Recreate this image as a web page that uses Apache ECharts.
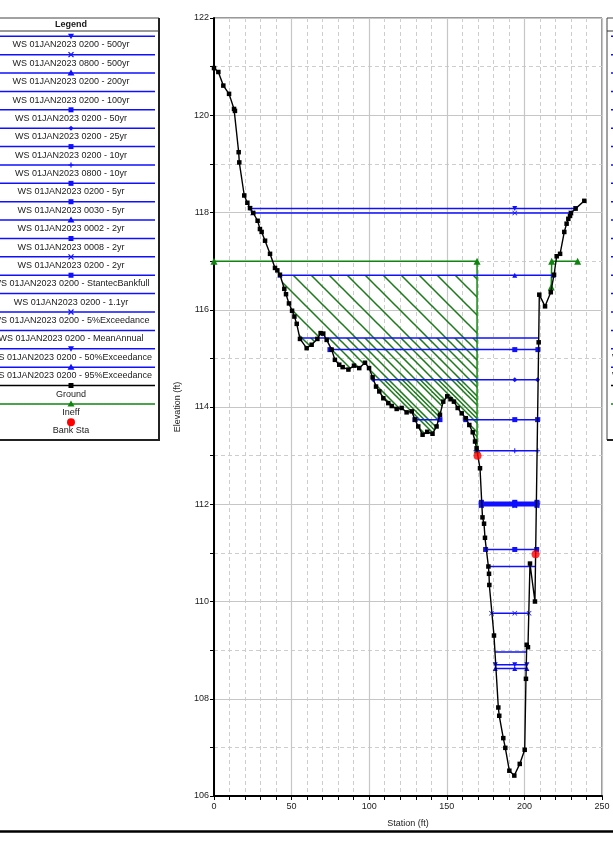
<!DOCTYPE html>
<html><head><meta charset="utf-8">
<script src="https://cdn.jsdelivr.net/npm/echarts/dist/echarts.min.js"></script>
<style>html,body{margin:0;padding:0;background:#fff;}#c{width:613px;height:845px;}</style>
</head><body><div id="c"></div>
<script>
// ---------------- DATA ----------------
const groundSta = [0,2.8,6.0,9.7,12.9,13.5,15.9,16.3,19.5,21.5,23.2,25.3,28.1,29.6,30.7,32.9,36.1,39.3,40.8,42.5,45.3,46.4,48.3,50.3,51.8,53.3,55.4,59.7,62.9,66.6,68.7,70.4,72.6,75.8,77.9,80.7,82.9,86.6,90.2,93.6,97.3,99.9,102.2,104.4,106.5,109.1,112.3,114.5,117.7,120.9,124.1,127.4,129.5,131.6,134.4,137.4,140.8,143.4,145.6,147.7,150.3,152.4,154.6,157.0,159.6,162.2,164.5,166.7,168.2,169.2,171.4,173.0,174.0,174.6,176.8,177.2,177.4,180.4,183.2,183.8,186.4,187.7,190.3,193.5,197.0,200.2,201.0,201.5,202.3,203.6,206.8,209.2,209.6,213.3,217.0,219.1,220.8,223.0,225.7,227.2,228.3,229.4,230.0,233.0,238.6];
const groundElev = [120.97,120.89,120.61,120.44,120.13,120.09,119.24,119.03,118.35,118.20,118.09,117.99,117.83,117.66,117.60,117.42,117.15,116.86,116.81,116.72,116.43,116.32,116.13,115.98,115.86,115.71,115.40,115.21,115.28,115.40,115.52,115.51,115.38,115.18,114.97,114.87,114.82,114.77,114.85,114.80,114.91,114.80,114.61,114.42,114.32,114.18,114.08,114.02,113.96,113.98,113.89,113.91,113.74,113.60,113.43,113.49,113.45,113.60,113.84,114.11,114.22,114.16,114.11,113.98,113.87,113.77,113.63,113.48,113.29,113.15,112.74,111.73,111.60,111.31,110.72,110.57,110.34,109.30,107.82,107.65,107.19,106.99,106.52,106.42,106.66,106.95,108.41,109.11,109.06,110.78,110.00,115.33,116.31,116.07,116.36,116.72,117.10,117.15,117.60,117.77,117.87,117.93,117.99,118.08,118.24];

const wsNames = [
 "WS 01JAN2023 0200 - 500yr","WS 01JAN2023 0800 - 500yr","WS 01JAN2023 0200 - 200yr","WS 01JAN2023 0200 - 100yr",
 "WS 01JAN2023 0200 - 50yr","WS 01JAN2023 0200 - 25yr","WS 01JAN2023 0200 - 10yr","WS 01JAN2023 0800 - 10yr",
 "WS 01JAN2023 0200 - 5yr","WS 01JAN2023 0030 - 5yr","WS 01JAN2023 0002 - 2yr","WS 01JAN2023 0008 - 2yr",
 "WS 01JAN2023 0200 - 2yr","WS 01JAN2023 0200 - StantecBankfull","WS 01JAN2023 0200 - 1.1yr","WS 01JAN2023 0200 - 5%Exceedance",
 "WS 01JAN2023 0200 - MeanAnnual","WS 01JAN2023 0200 - 50%Exceedance","WS 01JAN2023 0200 - 95%Exceedance"];
const wsElev = [118.08,117.99,116.71,115.42,115.18,114.56,113.74,113.10,112.04,112.02,112.00,111.98,111.97,111.07,110.72,109.76,108.96,108.70,108.62];
const wsSegments = [
 [[23.2,233.0]],[[24.9,230.0]],[[42.5,218.6]],[[55.4,209.3]],[[74.7,208.7]],[[102.6,208.5]],
 [[129.5,145.6],[162.2,208.5]],[[168.8,208.6]],[[172.3,208.1]],[[172.3,208.1]],[[172.2,208.1]],
 [[172.2,208.1]],[[172.3,208.1]],[[175.0,207.9]],[[176.8,207.4]],[[178.8,203.0]],[[181.0,201.4]],
 [[181.2,201.6]],[[181.2,201.6]]];
const wsMidSta = 193.8;

const ineffLeftSta = [0,169.5,169.5];
const ineffLeftElev = [117.0,117.0,113.12];
const ineffRightSta = [217.3,217.6,234.3];
const ineffRightElev = [116.47,117.0,117.0];

const bankSta = [169.8,207.2];
const bankElev = [113.0,110.97];

const hatchProfiles = [2,3,5];   // indices into wsElev used for ineffective hatch
const xTicks = [0,50,100,150,200,250];
const yTicks = [106,108,110,112,114,116,118,120,122];

// ---------------- STYLE ----------------
const FONT = '"Liberation Sans", Arial, sans-serif';
const BLUE = '#1010ff', GREEN = '#0f850f', HATCH = '#1b7a1b';
const wsSymbols = ['triangleDown','x','triangle','none','rect','diamond','rect','plus','rect','rect','triangle','rect','x','rect','none','x','none','triangleDown','triangle'];
const hatchOffsets = [0,9,4.5];
const SYM = {
  x:'path://M0,1L1,0L5,4L9,0L10,1L6,5L10,9L9,10L5,6L1,10L0,9L4,5Z',
  plus:'path://M4,0H6V4H10V6H6V10H4V6H0V4H4Z'
};
function symOf(s){ if(s==='x'||s==='plus') return SYM[s]; if(s==='triangleDown') return 'triangle'; return s; }

function makeHatch(off){
  const P=18, c=document.createElement('canvas'); c.width=P; c.height=P;
  const g=c.getContext('2d'); g.strokeStyle=HATCH; g.lineWidth=1.55;
  for(let k=-2;k<=2;k++){ g.beginPath(); g.moveTo(off+k*P-3,-3); g.lineTo(off+k*P+P+3,P+3); g.stroke(); }
  return c;
}
function hatchPolygon(L,xEnd){
  const bottom=[];
  for(let i=0;i<groundSta.length-1;i++){
    const x1=groundSta[i],y1=groundElev[i],x2=groundSta[i+1],y2=groundElev[i+1];
    if(x1>=xEnd) break;
    let xb=x2,yb=y2;
    if(x2>xEnd){ yb=y1+(y2-y1)*(xEnd-x1)/(x2-x1); xb=xEnd; }
    if(i===0) bottom.push([x1,Math.min(y1,L)]);
    if((y1-L)*(yb-L)<0){ const t=(L-y1)/(yb-y1); bottom.push([x1+t*(xb-x1),L]); }
    bottom.push([xb,Math.min(yb,L)]);
  }
  return bottom.concat([[xEnd,L],[bottom[0][0],L]]);
}

const series=[];
const hatchCanvases = hatchOffsets.map(makeHatch);
series.push({
  type:'custom', coordinateSystem:'cartesian2d', silent:true, z:1, clip:true,
  data: hatchProfiles.map(i=>[ineffLeftSta[1], wsElev[i]]),
  renderItem:(params,api)=>{
    const idx=params.dataIndex, L=wsElev[hatchProfiles[idx]];
    const pts=hatchPolygon(L, ineffLeftSta[1]).map(p=>api.coord(p));
    return {type:'polygon', shape:{points:pts}, style:{fill:{image:hatchCanvases[idx],repeat:'repeat'}, stroke:null}};
  }
});
const zip=(a,b)=>a.map((v,i)=>[v,b[i]]);
[[ineffLeftSta,ineffLeftElev],[ineffRightSta,ineffRightElev]].forEach(([s,e])=>{
  series.push({type:'line', name:'Ineff', data:zip(s,e), z:3, symbol:'triangle', symbolSize:7,
    lineStyle:{color:GREEN,width:1.5}, itemStyle:{color:GREEN}, animation:false});
});
wsElev.forEach((el,i)=>{
  wsSegments[i].forEach(seg=>{
    const pts=[[seg[0],el]];
    if(wsMidSta>seg[0] && wsMidSta<seg[1]) pts.push([wsMidSta,el]);
    pts.push([seg[1],el]);
    const s=wsSymbols[i];
    series.push({type:'line', name:wsNames[i], data:pts, z:4,
      symbol: s==='none'?'none':symOf(s), symbolRotate: s==='triangleDown'?180:0,
      symbolSize:5, showSymbol:s!=='none',
      lineStyle:{color:BLUE,width:1.5}, itemStyle:{color:BLUE}, animation:false});
  });
});
series.push({type:'line', name:'Ground', data:zip(groundSta,groundElev), z:5, symbol:'rect', symbolSize:4.5,
  lineStyle:{color:'#000',width:1.4}, itemStyle:{color:'#000'}, animation:false});
series.push({type:'scatter', name:'Bank Sta', data:zip(bankSta,bankElev), z:6, symbol:'circle', symbolSize:8,
  itemStyle:{color:'#ff0000'}, animation:false});

// ---------------- LEGEND (graphic) ----------------
function markerEl(s,cx,cy,color){
  if(s==='rect') return {type:'rect',shape:{x:cx-2.5,y:cy-2.5,width:5,height:5},style:{fill:color}};
  if(s==='triangle') return {type:'polygon',shape:{points:[[cx,cy-3.5],[cx-3.5,cy+2.5],[cx+3.5,cy+2.5]]},style:{fill:color}};
  if(s==='triangleDown') return {type:'polygon',shape:{points:[[cx,cy+3],[cx-3,cy-2.5],[cx+3,cy-2.5]]},style:{fill:color}};
  if(s==='diamond') return {type:'polygon',shape:{points:[[cx,cy-2.5],[cx+2.5,cy],[cx,cy+2.5],[cx-2.5,cy]]},style:{fill:color}};
  if(s==='circle') return {type:'circle',shape:{cx:cx,cy:cy,r:4},style:{fill:color}};
  if(s==='x') return {type:'group',children:[
      {type:'line',shape:{x1:cx-2.5,y1:cy-2.5,x2:cx+2.5,y2:cy+2.5},style:{stroke:color,lineWidth:1.2}},
      {type:'line',shape:{x1:cx-2.5,y1:cy+2.5,x2:cx+2.5,y2:cy-2.5},style:{stroke:color,lineWidth:1.2}}]};
  if(s==='plus') return {type:'group',children:[
      {type:'line',shape:{x1:cx-2.5,y1:cy,x2:cx+2.5,y2:cy},style:{stroke:color,lineWidth:1.2}},
      {type:'line',shape:{x1:cx,y1:cy-2.5,x2:cx,y2:cy+2.5},style:{stroke:color,lineWidth:1.2}}]};
  return null;
}
function txt(t,x,y,bold){
  return {type:'text',x:x,y:y,style:{text:t,font:(bold?'bold ':'')+'9px '+FONT,fill:'#1a1a1a',
    textAlign:'center',textVerticalAlign:'middle',verticalAlign:'middle',align:'center'}};
}
function legendEls(dx){
  const els=[];
  const L=-15+dx,R=159+dx,T=18,B=440,cx=71+dx;
  els.push({type:'rect',shape:{x:L,y:T,width:R-L,height:B-T},style:{fill:'#fff',stroke:'#444',lineWidth:1}});
  els.push({type:'line',shape:{x1:R,y1:T,x2:R,y2:B+1},style:{stroke:'#222',lineWidth:2}});
  els.push({type:'line',shape:{x1:L,y1:B,x2:R,y2:B},style:{stroke:'#222',lineWidth:2}});
  els.push({type:'line',shape:{x1:L,y1:31,x2:R,y2:31},style:{stroke:'#333',lineWidth:1}});
  els.push(txt('Legend',cx,24.5,true));
  const rows=wsNames.map((n,i)=>({name:n,color:BLUE,sym:wsSymbols[i],line:true}))
    .concat([{name:'Ground',color:'#000',sym:'rect',line:true},{name:'Ineff',color:GREEN,sym:'triangle',line:true},{name:'Bank Sta',color:'#ff0000',sym:'circle',line:false}]);
  rows.forEach((r,i)=>{
    const y=36.3+18.38*i;
    if(r.line) els.push({type:'line',shape:{x1:L+4,y1:y,x2:R-4,y2:y},style:{stroke:r.color,lineWidth:1.5}});
    const m=markerEl(r.sym,cx,y,r.color); if(m) els.push(m);
    els.push(txt(r.name,cx,y+8.6,false));
  });
  return els;
}
const graphics = legendEls(0).concat(legendEls(622));
graphics.push({type:'line',shape:{x1:0,y1:831.5,x2:613,y2:831.5},style:{stroke:'#000',lineWidth:2.5}});

// ---------------- CHART ----------------
const chart=echarts.init(document.getElementById('c'),null,{renderer:'canvas'});
const axisCommon = {
  axisLine:{show:true,onZero:false,lineStyle:{color:'#000',width:2}},
  axisTick:{show:true,length:4,lineStyle:{color:'#000'}},
  minorTick:{show:true,length:4,lineStyle:{color:'#000'}},
  axisLabel:{fontSize:9,color:'#222',fontFamily:FONT},
  splitLine:{show:true,lineStyle:{color:'#c6c6c6',width:1.2}},
  minorSplitLine:{show:true,lineStyle:{color:'#cdcdcd',width:1,type:[4,3]}},
  nameTextStyle:{fontSize:9,color:'#222',fontFamily:FONT}
};
chart.setOption({
  animation:false,
  backgroundColor:'#fff',
  grid:{left:214,top:18,right:11,bottom:49,show:true,borderColor:'#333',borderWidth:1},
  xAxis:Object.assign({},axisCommon,{type:'value',min:xTicks[0],max:xTicks[xTicks.length-1],interval:xTicks[1]-xTicks[0],
    name:'Station (ft)',nameLocation:'middle',nameGap:23,
    minorTick:Object.assign({},axisCommon.minorTick,{splitNumber:5}),
    axisLabel:Object.assign({},axisCommon.axisLabel,{margin:6})}),
  yAxis:Object.assign({},axisCommon,{type:'value',min:yTicks[0],max:yTicks[yTicks.length-1],interval:yTicks[1]-yTicks[0],
    name:'Elevation (ft)',nameLocation:'middle',nameGap:32,
    minorTick:Object.assign({},axisCommon.minorTick,{splitNumber:2}),
    axisLabel:Object.assign({},axisCommon.axisLabel,{margin:5})}),
  series:series,
  graphic:{elements:graphics}
});
</script></body></html>
